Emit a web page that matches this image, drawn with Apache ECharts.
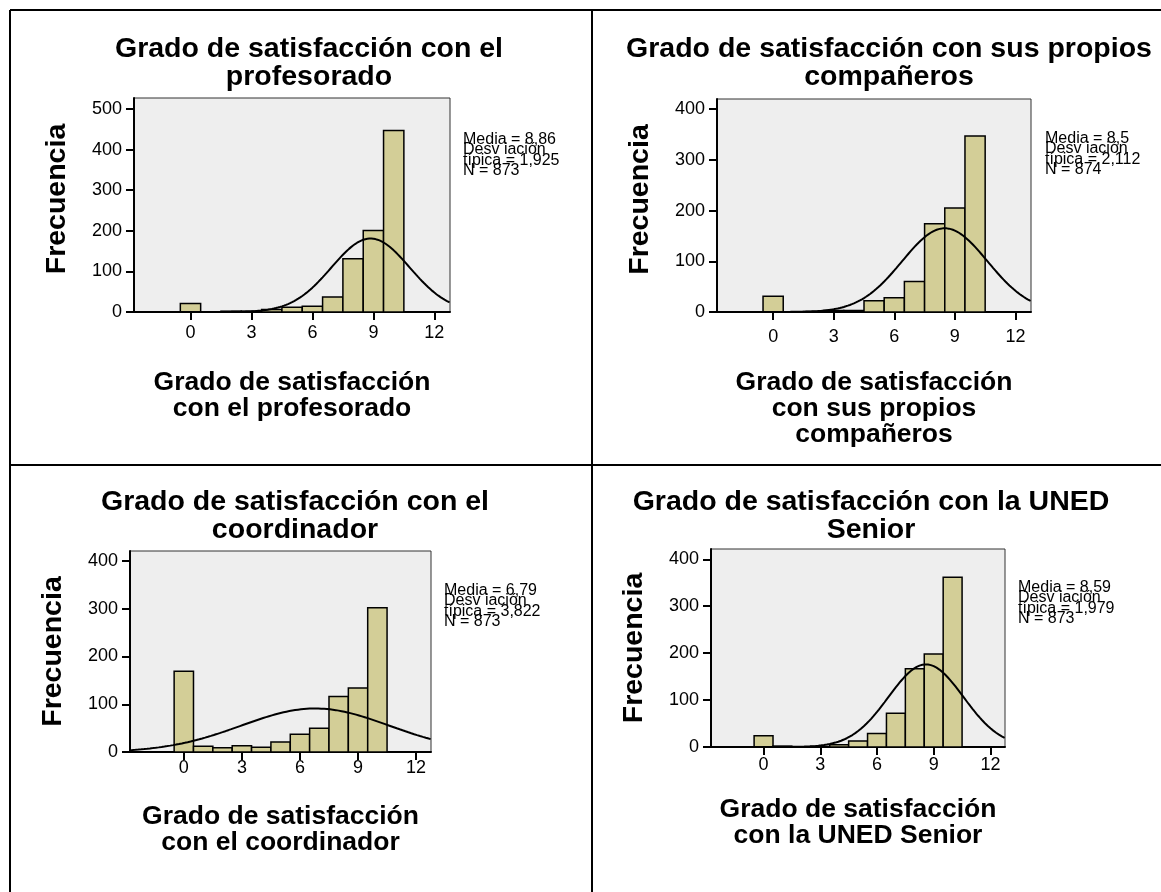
<!DOCTYPE html>
<html>
<head>
<meta charset="utf-8">
<title>Grado de satisfacción</title>
<script src="https://cdn.jsdelivr.net/npm/echarts@6/dist/echarts.min.js"></script>
<style>
html, body { margin: 0; padding: 0; background: #fff; }
#chart { width: 1161px; height: 892px; }
</style>
</head>
<body>
<div id="chart"></div>
<script>
// puntuaciones (clases del histograma)
const scores = [0, 1, 2, 3, 4, 5, 6, 7, 8, 9, 10]
const freqProfesorado = [21, 0, 2, 2, 6, 12, 14, 37, 131, 201, 447]
const freqCompaneros = [31, 0, 1, 3, 3, 22, 28, 60, 174, 205, 347]
const freqCoordinador = [169, 12, 9, 13, 10, 21, 37, 50, 116, 134, 302]
const freqUned = [24, 2, 0, 1, 5, 13, 29, 72, 167, 198, 362]

// estadísticos de cada panel
const medias = [8.86, 8.5, 6.79, 8.59]
const desviaciones = [1.925, 2.112, 3.822, 1.979]
const casos = [873, 874, 873, 873]

const titulos = [
  'Grado de satisfacción con el\nprofesorado',
  'Grado de satisfacción con sus propios\ncompañeros',
  'Grado de satisfacción con el\ncoordinador',
  'Grado de satisfacción con la UNED\nSenior'
]
const nombresX = [
  'Grado de satisfacción\ncon el profesorado',
  'Grado de satisfacción\ncon sus propios\ncompañeros',
  'Grado de satisfacción\ncon el coordinador',
  'Grado de satisfacción\ncon la UNED Senior'
]
const xTicks = [0, 3, 6, 9, 12]
const yTicks = [
  [0, 100, 200, 300, 400, 500],
  [0, 100, 200, 300, 400],
  [0, 100, 200, 300, 400],
  [0, 100, 200, 300, 400]
]
const yMax = [527, 420, 421, 422]

const frecuencias = [freqProfesorado, freqCompaneros, freqCoordinador, freqUned]

// ---- layout ----
const FONT = "'Liberation Sans', Arial, sans-serif"
const grids = [
  { left: 134, top: 98, width: 316, height: 214 },
  { left: 717, top: 99, width: 314, height: 213 },
  { left: 130, top: 551, width: 301, height: 201 },
  { left: 711, top: 549, width: 294, height: 198 }
]
const xNameGap = [58, 58, 52, 50]
const xLabelMargin = [12, 16, 7, 9]
const yNamePad = [12, 12, 0, 0]
const titlePos = [[309, 63], [889, 63], [295, 516], [871, 516]]
const statsPos = [[463, 134], [1045, 133], [444, 585], [1018, 582]]

function fmt (v) {
  return String(v).replace('.', ',')
}

function normalCurve (i) {
  const m = medias[i]
  const sd = desviaciones[i]
  const k = casos[i] / (sd * Math.sqrt(2 * Math.PI))
  const pts = []
  for (let x = -2.8; x <= 12.8; x += 0.05) {
    pts.push([x, k * Math.exp(-0.5 * Math.pow((x - m) / sd, 2))])
  }
  return pts
}

function renderBar (params, api) {
  const x = api.value(0)
  const y = api.value(1)
  const p0 = api.coord([x - 0.5, y])
  const p1 = api.coord([x + 0.5, 0])
  return {
    type: 'rect',
    shape: { x: p0[0], y: p0[1], width: p1[0] - p0[0], height: p1[1] - p0[1] },
    style: { fill: '#d3ce97', stroke: '#000', lineWidth: 1.5 }
  }
}

const xAxes = []
const yAxes = []
const series = []
const graphics = []

for (let i = 0; i < 4; i++) {
  xAxes.push({
    type: 'value',
    gridIndex: i,
    min: -2.78,
    max: 12.77,
    splitLine: { show: false },
    axisLine: { onZero: false, lineStyle: { color: '#000', width: 2 } },
    axisTick: { customValues: xTicks, length: 8, lineStyle: { color: '#000', width: 2 } },
    axisLabel: { customValues: xTicks, margin: xLabelMargin[i], color: '#000', fontSize: 18, fontFamily: FONT },
    name: nombresX[i],
    nameLocation: 'middle',
    nameGap: xNameGap[i],
    nameTextStyle: { color: '#000', fontSize: 26.5, fontWeight: 'bold', fontFamily: FONT, lineHeight: 26 }
  })
  yAxes.push({
    type: 'value',
    gridIndex: i,
    min: 0,
    max: yMax[i],
    splitLine: { show: false },
    axisLine: { show: true, onZero: false, lineStyle: { color: '#000', width: 2 } },
    axisTick: { show: true, customValues: yTicks[i], length: 8, lineStyle: { color: '#000', width: 2 } },
    axisLabel: { customValues: yTicks[i], margin: 12, color: '#000', fontSize: 18, fontFamily: FONT },
    name: 'Frecuencia',
    nameLocation: 'middle',
    nameGap: 62,
    nameTextStyle: { color: '#000', fontSize: 28.5, fontWeight: 'bold', fontFamily: FONT, padding: [0, 0, 0, yNamePad[i]] }
  })
  series.push({
    type: 'custom',
    xAxisIndex: i,
    yAxisIndex: i,
    renderItem: renderBar,
    encode: { x: 0, y: 1 },
    data: scores.map((s, k) => [s, frecuencias[i][k]]),
    z: 2
  })
  series.push({
    type: 'line',
    xAxisIndex: i,
    yAxisIndex: i,
    data: normalCurve(i),
    symbol: 'none',
    smooth: false,
    clip: true,
    lineStyle: { color: '#000', width: 2 },
    z: 3
  })
  graphics.push({
    type: 'text',
    x: titlePos[i][0],
    y: titlePos[i][1],
    style: {
      text: titulos[i],
      fill: '#000',
      font: 'bold 28.5px ' + FONT,
      lineHeight: 28,
      textAlign: 'center',
      textVerticalAlign: 'middle'
    }
  })
  graphics.push({
    type: 'text',
    x: statsPos[i][0],
    y: statsPos[i][1],
    style: {
      text: 'Media = ' + fmt(medias[i]) + '\nDesv iación\ntípica = ' + fmt(desviaciones[i]) + '\nN = ' + casos[i],
      fill: '#000',
      font: '16px ' + FONT,
      lineHeight: 10.5,
      textAlign: 'left',
      textVerticalAlign: 'top'
    }
  })
}

// marco de la tabla
const borderStyle = { stroke: '#000', lineWidth: 2 }
graphics.push(
  { type: 'line', shape: { x1: 10, y1: 10, x2: 1161, y2: 10 }, style: borderStyle },
  { type: 'line', shape: { x1: 10, y1: 465, x2: 1161, y2: 465 }, style: borderStyle },
  { type: 'line', shape: { x1: 10, y1: 10, x2: 10, y2: 892 }, style: borderStyle },
  { type: 'line', shape: { x1: 592, y1: 10, x2: 592, y2: 892 }, style: borderStyle }
)

const chart = echarts.init(document.getElementById('chart'))
chart.setOption({
  animation: false,
  backgroundColor: '#fff',
  grid: grids.map(g => Object.assign({ show: true, backgroundColor: '#eeeeee', borderColor: '#333', borderWidth: 1 }, g)),
  xAxis: xAxes,
  yAxis: yAxes,
  series: series,
  graphic: graphics
})
</script>
</body>
</html>
